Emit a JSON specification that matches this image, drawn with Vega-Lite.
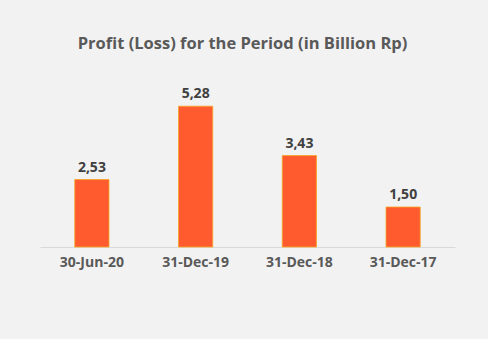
{
  "$schema": "https://vega.github.io/schema/vega-lite/v6.json",
  "width": 415,
  "height": 160,
  "autosize": {"type": "none"},
  "padding": {"left": 40, "top": 87, "right": 33, "bottom": 92},
  "background": "#f2f2f2",
  "title": {
    "text": "Profit (Loss)  for the Period  (in Billion Rp)",
    "anchor": "middle",
    "font": "Open Sans",
    "fontSize": 16.5,
    "fontWeight": "bold",
    "color": "#595959",
    "offset": 35,
    "dx": -5
  },
  "data": {
    "values": [
      {"period": "30-Jun-20", "value": 2.53, "label": "2,53"},
      {"period": "31-Dec-19", "value": 5.28, "label": "5,28"},
      {"period": "31-Dec-18", "value": 3.43, "label": "3,43"},
      {"period": "31-Dec-17", "value": 1.50, "label": "1,50"}
    ]
  },
  "encoding": {
    "x": {
      "field": "period",
      "type": "nominal",
      "sort": null,
      "scale": {"paddingInner": 0.67, "paddingOuter": 0.335},
      "axis": {
        "title": null,
        "labelAngle": 0,
        "labelFont": "Open Sans",
        "labelFontSize": 14,
        "labelFontWeight": "bold",
        "labelColor": "#595959",
        "labelPadding": 8,
        "ticks": false,
        "domainColor": "#d9d9d9",
        "domainWidth": 1
      }
    },
    "y": {
      "field": "value",
      "type": "quantitative",
      "scale": {"domain": [0, 6]},
      "axis": null
    }
  },
  "layer": [
    {
      "mark": {"type": "bar", "color": "#ff5b2e", "stroke": "#f5a623", "strokeWidth": 0.8}
    },
    {
      "mark": {
        "type": "text",
        "baseline": "bottom",
        "dy": -5,
        "font": "Open Sans",
        "fontSize": 14,
        "fontWeight": "bold",
        "color": "#404040"
      },
      "encoding": {"text": {"field": "label"}}
    }
  ],
  "config": {"view": {"stroke": null}}
}
